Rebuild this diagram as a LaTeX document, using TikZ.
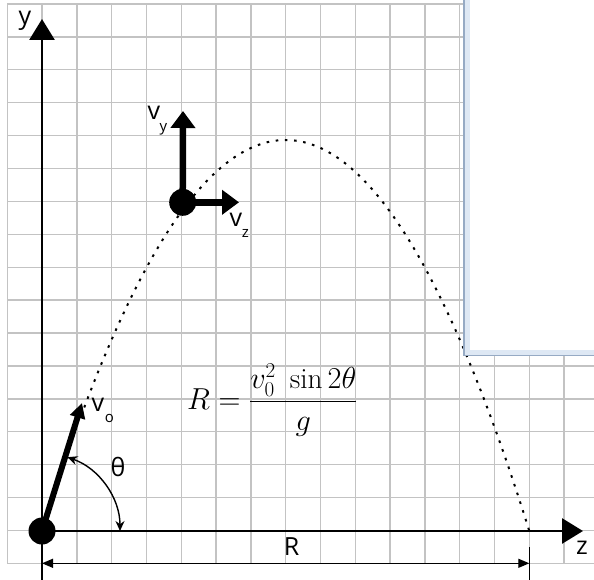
\documentclass[tikz,border=0pt]{standalone}
\usepackage{fontspec}
\setsansfont{Open Sans}
\usetikzlibrary{arrows.meta}
\definecolor{gridgray}{RGB}{195,195,195}
\definecolor{winborder}{RGB}{150,170,196}
\definecolor{winlight}{RGB}{222,232,244}
\begin{document}
\begin{tikzpicture}[x=1pt,y=-1pt,
  gridline/.style={draw=gridgray, line width=1.4pt},
  axisline/.style={line width=2.8pt, -{Triangle[length=21pt,width=25pt]}},
  bigvec/.style={line width=6.5pt, -{Triangle[length=17pt,width=24pt]}},
  initvec/.style={line width=6pt, -{Triangle[length=15pt,width=15pt]}},
  thinline/.style={line width=1.3pt},
  dimarrow/.style={line width=1.3pt, {Triangle[length=11pt,width=9pt]}-{Triangle[length=11pt,width=9pt]}},
  anglearrow/.style={line width=1.4pt, {Stealth[length=10pt,width=9pt]}-{Stealth[length=10pt,width=9pt]}},
  trajectory/.style={line width=2pt, dash pattern=on 2.6pt off 6.6pt},
  ballnode/.style={circle, fill=black, minimum size=27pt, inner sep=0pt},
  lab/.style={font=\sffamily\fontsize{25}{28}\selectfont, inner sep=0pt},
  sublab/.style={font=\sffamily\fontsize{15}{16}\selectfont, inner sep=0pt}]
\useasboundingbox (0,0) rectangle (594,580);
\fill[white] (0,0) rectangle (594,580);
% grid
\foreach \i in {0,...,16} \draw[gridline] ({7.3+34.8*\i},4) -- ({7.3+34.8*\i},563.3);
\foreach \j in {0,...,17} \draw[gridline] (7.3,{563.3-32.9*\j}) -- (594,{563.3-32.9*\j});
% trajectory
\draw[trajectory] plot[domain=81:529.3, samples=120, smooth] (\x, {531-391*(1-((\x-285.7)/243.6)^2)});
% named points
\coordinate (O) at (42,531);
\coordinate (ytop) at (42,19);
\coordinate (ybot) at (42,580);
\coordinate (zend) at (583,531);
\coordinate (v0tip) at (82,403);
\coordinate (vytip) at (183,111);
\coordinate (vztip) at (239,202.3);
\coordinate (Rleft) at (42,563.3);
\coordinate (Rright) at (529.3,563.3);
\coordinate (tickTop) at (529.3,547);
\coordinate (tickBot) at (529.3,580);
% axes
\draw[thinline] (O) -- (ybot);
\draw[axisline] (O) -- (ytop);
\draw[axisline] (O) -- (zend);
% initial velocity
\draw[initvec] (O) -- (v0tip);
\node[ballnode] (ball0) at (O) {};
% angle
\draw[anglearrow] ([shift={(71:78pt)}]O) arc[start angle=71, end angle=0, radius=78pt];
% ball at mid flight
\node[ballnode] (ball) at (182.7,202.3) {};
\draw[bigvec] (ball.center) -- (vytip);
\draw[bigvec] (ball.center) -- (vztip);
% range
\draw[dimarrow] (Rleft) -- (Rright);
\draw[thinline] (tickTop) -- (tickBot);
% labels
\node[lab] (ylab) at (25,21) {y};
\node[lab] (zlab) at (582,548) {z};
\node[lab] (vy) at (154,113) {v};
\node[sublab] (vysub) at (163.5,129) {y};
\node[lab] (vz) at (236,220) {v};
\node[sublab] (vzsub) at (245.5,233) {z};
\node[lab] (v0) at (98,405) {v};
\node[sublab] (v0sub) at (109.5,418) {o};
\node[lab] (th) at (118,467) {θ};
\node[lab] (Rlab) at (291.7,547) {R};
\node[inner sep=0pt, font=\fontsize{24}{28}\selectfont, scale=1.22, transform shape] (formula) at (272.5,400) {$\displaystyle R=\frac{v_0^2\ \sin 2\theta}{g}$};
% overlay window
\fill[white] (464,-5) rectangle (600,356);
\draw[winlight, line width=5pt] (467.5,-5) -- (467.5,352) -- (600,352);
\draw[winborder, line width=1.6pt] (464,-5) -- (464,355.5) -- (600,355.5);
\end{tikzpicture}
\end{document}
